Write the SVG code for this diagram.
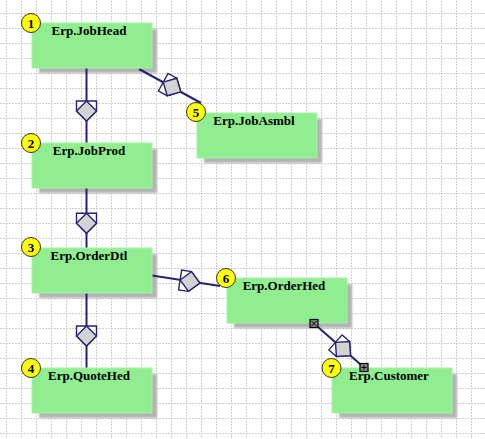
<svg xmlns="http://www.w3.org/2000/svg" xmlns:xlink="http://www.w3.org/1999/xlink" width="485" height="439" viewBox="0 0 485 439">
<style>
.box{fill:#90ee90;stroke:#a6f2a6;stroke-width:1}
.shd{fill:#b3b3b3}
.badge{fill:#ffff00;stroke:#333;stroke-width:1}
.num{font-family:"Liberation Serif",serif;font-weight:bold;font-size:13px;fill:#000;text-anchor:middle}
.title{font-family:"Liberation Serif",serif;font-weight:bold;font-size:13px;fill:#000;text-anchor:middle}
.ln{stroke:#232371;stroke-width:2;fill:none}
.mk{fill:#888;stroke:#000;stroke-width:1.2}
.mkx{stroke:#000;stroke-width:1;fill:none}
</style>
<defs>
<pattern id="grid" patternUnits="userSpaceOnUse" x="6" y="13" width="15" height="15">
<line x1="0.5" y1="0" x2="0.5" y2="15" stroke="#cfcfcf" stroke-width="1" stroke-dasharray="2 1"/>
<line x1="0" y1="0.5" x2="15" y2="0.5" stroke="#cfcfcf" stroke-width="1" stroke-dasharray="2 1"/>
</pattern>
<filter id="blur" x="-10%" y="-10%" width="120%" height="130%">
<feGaussianBlur stdDeviation="0.8"/>
</filter>
<g id="agg">
<path d="M-10,-10H10V0L0,10L-10,0Z" fill="#fff" stroke="#232371" stroke-width="1.4"/>
<path d="M0,-10L10,0L0,10L-10,0Z" fill="#d3d3d3" stroke="#232371" stroke-width="1.4"/>
</g>
</defs>
<rect width="485" height="439" fill="#fff"/>
<rect width="485" height="439" fill="url(#grid)"/>

<g id="shadows" filter="url(#blur)">
<rect class="shd" x="39" y="29" width="118" height="44"/>
<rect class="shd" x="39" y="149" width="118" height="44"/>
<rect class="shd" x="39" y="254" width="118" height="44"/>
<rect class="shd" x="39" y="374" width="118" height="44"/>
<rect class="shd" x="204" y="119" width="118" height="44"/>
<rect class="shd" x="234" y="284" width="118" height="44"/>
<rect class="shd" x="339" y="374" width="118" height="44"/>
</g>

<g id="connectors">
<line class="ln" x1="86.5" y1="68" x2="86.5" y2="143"/>
<use xlink:href="#agg" transform="translate(86.5,111)"/>
<line class="ln" x1="86.5" y1="188" x2="86.5" y2="248"/>
<use xlink:href="#agg" transform="translate(86.5,223.3)"/>
<line class="ln" x1="86.5" y1="293" x2="86.5" y2="368"/>
<use xlink:href="#agg" transform="translate(86.5,336)"/>
<line class="ln" x1="139" y1="69" x2="201" y2="103"/>
<use xlink:href="#agg" transform="translate(172,87) rotate(-61.3)"/>
<line class="ln" x1="152" y1="275.5" x2="220" y2="286"/>
<use xlink:href="#agg" transform="translate(190,281.5) rotate(-81.2)"/>
<line class="ln" x1="314" y1="323.5" x2="364" y2="367.5"/>
<use xlink:href="#agg" transform="translate(343,349) rotate(-48.7)"/>
</g>

<g id="node1">
<rect class="box" x="32" y="23" width="120" height="45"/>
<text class="title" x="89" y="35">Erp.JobHead</text>
<circle class="badge" cx="31" cy="23" r="9.5"/>
<text class="num" x="31" y="27.5">1</text>
</g>
<g id="node2">
<rect class="box" x="32" y="143" width="120" height="45"/>
<text class="title" x="89" y="155">Erp.JobProd</text>
<circle class="badge" cx="31" cy="143" r="9.5"/>
<text class="num" x="31" y="147.5">2</text>
</g>
<g id="node3">
<rect class="box" x="32" y="248" width="120" height="45"/>
<text class="title" x="89" y="260">Erp.OrderDtl</text>
<circle class="badge" cx="31" cy="247" r="9.5"/>
<text class="num" x="31" y="251.5">3</text>
</g>
<g id="node4">
<rect class="box" x="32" y="368" width="120" height="45"/>
<text class="title" x="89" y="380">Erp.QuoteHed</text>
<circle class="badge" cx="31" cy="368" r="9.5"/>
<text class="num" x="31" y="372.5">4</text>
</g>
<g id="node5">
<rect class="box" x="197" y="113" width="120" height="45"/>
<text class="title" x="254" y="125">Erp.JobAsmbl</text>
<circle class="badge" cx="196" cy="112" r="9.5"/>
<text class="num" x="196" y="116.5">5</text>
</g>
<g id="node6">
<rect class="box" x="227" y="278" width="120" height="45"/>
<text class="title" x="284" y="290">Erp.OrderHed</text>
<circle class="badge" cx="226" cy="278" r="9.5"/>
<text class="num" x="226" y="282.5">6</text>
</g>
<g id="node7">
<rect class="box" x="332" y="368" width="120" height="45"/>
<text class="title" x="389" y="380">Erp.Customer</text>
<circle class="badge" cx="331.5" cy="368" r="9.5"/>
<text class="num" x="331.5" y="372.5">7</text>
</g>

<g id="connector-ends">
<rect class="mk" x="310" y="319.5" width="8" height="8"/>
<path class="mkx" d="M311.5,321L316.5,326M316.5,321L311.5,326"/>
<rect class="mk" x="360" y="363.5" width="8" height="8"/>
<path class="mkx" d="M364,365V370M361.5,367.5H366.5"/>
</g>
</svg>
